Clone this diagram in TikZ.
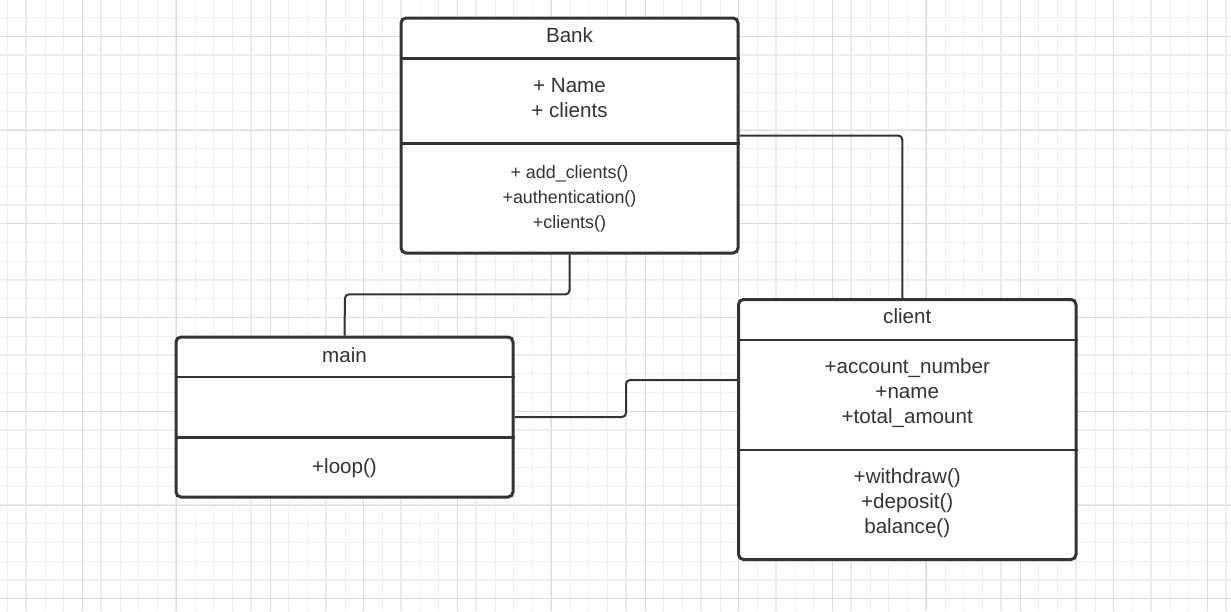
\documentclass[tikz,border=0pt]{standalone}
\usepackage{fontspec}
\setmainfont{Liberation Sans}
\usetikzlibrary{calc}
\definecolor{ink}{HTML}{333333}
\definecolor{gridA}{HTML}{EFEFEF}
\definecolor{gridB}{HTML}{DCDCDC}
\definecolor{gridC}{HTML}{ECECEC}
\begin{document}
\begin{tikzpicture}[x=1pt,y=-1pt,
  classbox/.style={draw=ink, line width=3pt, fill=white, rounded corners=5pt, inner sep=0pt},
  divider/.style={draw=ink, line width=2.5pt},
  conn/.style={draw=ink, line width=2pt, rounded corners=4pt},
  lbl/.style={anchor=base, inner sep=0pt, text=ink, font=\fontsize{20.6}{25}\selectfont},
  lblsm/.style={lbl, font=\fontsize{17.9}{22}\selectfont},
  gA/.style={draw=gridA, line width=1pt},
  gB/.style={draw=gridB, line width=1pt},
  gC/.style={draw=gridC, line width=1.8pt},
]
\useasboundingbox (0,0) rectangle (1231,611);
\fill[white] (0,0) rectangle (1231,611);
% grid
\begin{scope}
  \clip (0,0) rectangle (1231,611);
  \foreach \i in {0,...,65} {\draw[gA] ({7.5+18.75*\i},0) -- ++(0,611);}
  \foreach \i in {0,...,32} {\draw[gA] (0,{17.5+18.75*\i}) -- ++(1231,0);}
  \foreach \i in {0,...,16} {\draw[gC] ({25.75+75*\i},0) -- ++(0,611);}
  \foreach \i in {0,...,7} {\draw[gC] (0,{54.5+75*\i}) -- ++(1231,0);}
  \foreach \i in {0,...,12} {\draw[gB] ({82.5+93.75*\i},0) -- ++(0,611);}
  \foreach \i in {0,...,6} {\draw[gB] (0,{36.25+93.75*\i}) -- ++(1231,0);}
\end{scope}

% class boxes
\node[classbox, minimum width=337pt, minimum height=235pt] (bank) at (569.5,135.5) {};
\node[classbox, minimum width=337pt, minimum height=160pt] (main) at (344.5,417) {};
\node[classbox, minimum width=337.5pt, minimum height=260pt] (client) at (907.25,429.5) {};

% dividers
\draw[divider] (bank.west |- 0,58.5) -- (bank.east |- 0,58.5);
\draw[divider] (bank.west |- 0,143.5) -- (bank.east |- 0,143.5);
\draw[divider] (main.west |- 0,377) -- (main.east |- 0,377);
\draw[divider] (main.west |- 0,437.5) -- (main.east |- 0,437.5);
\draw[divider] (client.west |- 0,340) -- (client.east |- 0,340);
\draw[divider] (client.west |- 0,450) -- (client.east |- 0,450);

% Bank texts
\node[lbl] (bankT) at (569.5,42.5) {Bank};
\node[lbl] (bankA1) at (569.5,92.5) {+ Name};
\node[lbl] (bankA2) at (569.5,117.5) {+ clients};
\node[lblsm] (bankM1) at (569.5,178.3) {+ add\_clients()};
\node[lblsm] (bankM2) at (569.5,203.3) {+authentication()};
\node[lblsm] (bankM3) at (569.5,228) {+clients()};

% main texts
\node[lbl] (mainT) at (344.5,362.3) {main};
\node[lbl] (mainM1) at (344.5,473.3) {+loop()};

% client texts
\node[lbl] (clientT) at (907.25,323.3) {client};
\node[lbl] (clientA1) at (907.25,373.3) {+account\_number};
\node[lbl] (clientA2) at (907.25,398.3) {+name};
\node[lbl] (clientA3) at (907.25,423.3) {+total\_amount};
\node[lbl] (clientM1) at (907.25,483.3) {+withdraw()};
\node[lbl] (clientM2) at (907.25,508.3) {+deposit()};
\node[lbl] (clientM3) at (907.25,533.3) {balance()};

% connectors
\coordinate (j1) at ($(client.north)+(-5,0)$);
\draw[conn] (bank.east) -| (j1);
\coordinate (j2) at (345,294.3);
\draw[conn] (bank.south) |- (j2) -- (main.north);
\coordinate (j3) at (626,380);
\draw[conn] (main.east) -| (j3) -- (j3 -| client.west);
\end{tikzpicture}
\end{document}
